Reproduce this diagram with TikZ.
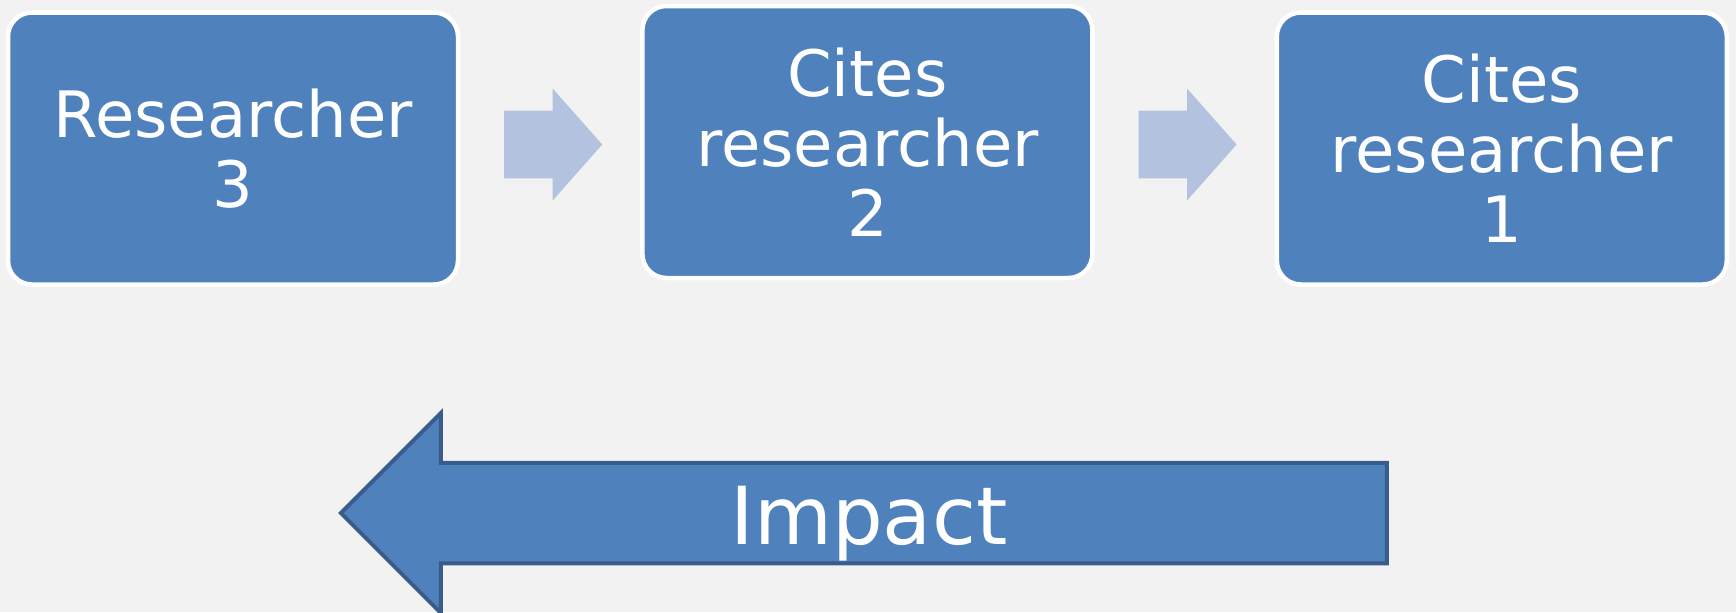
\documentclass[tikz,border=0pt]{standalone}
\usepackage{fontspec}
\setmainfont{DejaVu Sans}
\usetikzlibrary{shapes.arrows}
\definecolor{boxblue}{HTML}{4F81BD}
\definecolor{edgeblue}{HTML}{385D8A}
\definecolor{paleblue}{HTML}{B3C3DF}
\definecolor{backgray}{HTML}{F2F2F2}

\begin{document}
\begin{tikzpicture}[node distance=158.6pt,
                    box/.style={rectangle,rounded corners=12pt,draw=white,line width=2.25pt,fill=boxblue,text=white,
                      minimum width=225pt,minimum height=136pt,align=center,font=\fontsize{32}{35}\selectfont},
                    link arrow/.style={single arrow,fill=paleblue,inner xsep=0pt,inner ysep=16.75pt,minimum height=49pt,
                      minimum width=55.5pt,single arrow head extend=11pt,single arrow tip angle=97,xshift=-6pt},
                    impact arrow/.style={single arrow,shape border rotate=180,draw=edgeblue,line width=2pt,
                      fill=boxblue,text=white,inner xsep=0pt,inner ysep=4.75pt,text height=35pt,text depth=3.5pt,
                      minimum height=523pt,minimum width=100pt,single arrow head extend=24.75pt,
                      font=\fontsize{40}{48}\selectfont}]

  \fill[backgray] (0,0) rectangle (868pt,-306pt);
  \useasboundingbox (0,0) rectangle (868pt,-306pt);

  % top row
  \node[box] (r3) at (116.5pt,-74.25pt) {Researcher\\3};
  \node[link arrow] (a1) [right of=r3,yshift=2pt] {};
  \node[box] (r2) [right of=a1,yshift=1.25pt,xshift=6pt] {Cites\\researcher\\2};
  \node[link arrow] (a2) [right of=r2,yshift=-1.25pt] {};
  \node[box] (r1) [right of=a2,yshift=-2pt,xshift=6pt] {Cites\\researcher\\1};

  % bottom arrow
  \node[impact arrow] (impact) at (444.5pt,-256.5pt) {Impact\hspace*{20pt}};
\end{tikzpicture}
\end{document}
